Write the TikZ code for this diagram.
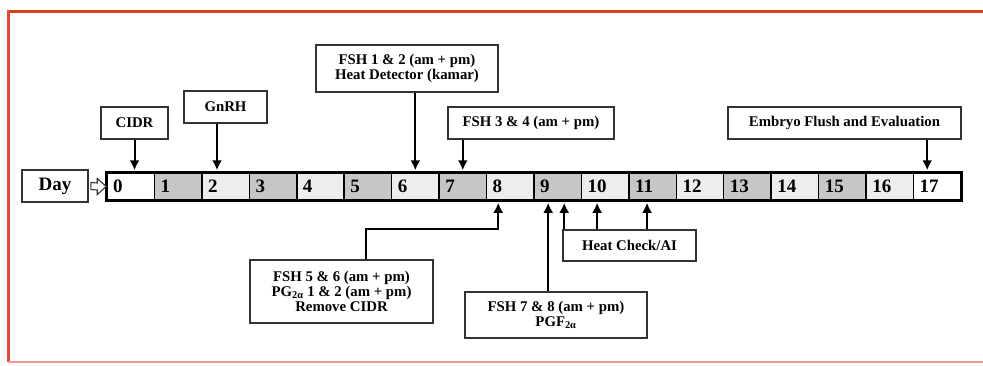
\documentclass[tikz,border=0pt]{standalone}
\usepackage{fontspec}
\setmainfont{Liberation Serif}
\usetikzlibrary{arrows.meta}
\definecolor{darkcell}{HTML}{C6C6C6}
\definecolor{lightcell}{HTML}{EDEDED}
\definecolor{frametop}{HTML}{D9411E}
\definecolor{frameleft}{HTML}{E0493A}
\definecolor{framebot}{HTML}{F29A92}
\begin{document}
\begin{tikzpicture}[x=1pt, y=-1pt, >={Latex[length=10pt,width=10pt]},
  box/.style={rectangle, draw=black!80, line width=1.6pt, fill=white, align=center, inner sep=0pt, font=\bfseries\fontsize{14.8}{15}\selectfont},
  cell/.style={rectangle, draw, line width=1.5pt, minimum width=47.44pt, minimum height=27pt, inner xsep=6pt, text width=35pt, align=left, font=\bfseries\fontsize{19}{19}\selectfont},
  arr/.style={->, line width=2pt, shorten >=2pt}]
\useasboundingbox (0,0) rectangle (983,365);
% frame
\draw[frametop, line width=3pt] (7,11) -- (983,11);
\draw[frameleft, line width=2.5pt] (8.5,10) -- (8.5,362);
\draw[framebot, line width=2.5pt] (7.5,362) -- (983,362);
% days
\foreach \d/\c in {0/white,1/darkcell,2/lightcell,3/darkcell,4/lightcell,5/darkcell,6/lightcell,7/darkcell,8/lightcell,9/darkcell,10/lightcell,11/darkcell,12/lightcell,13/darkcell,14/lightcell,15/darkcell,16/lightcell,17/white}
  \node (c\d) [cell, fill=\c] at ({107+47.44*(\d+0.5)}, 186.5) {\d};
\draw[line width=2.2pt] (c0.north west) rectangle (c17.south east);
\node (day) [box, minimum width=66pt, minimum height=32pt, font=\bfseries\fontsize{19}{19}\selectfont] at (55,186) {Day};
% hollow arrow day -> 0
\draw[line width=1.1pt, draw=black!80, fill=white, line join=miter]
  ([xshift=2pt,yshift=3.5pt]day.east) -- ([xshift=-9pt,yshift=3.5pt]c0.west) -- ([xshift=-9pt,yshift=8pt]c0.west)
  -- (c0.west) -- ([xshift=-9pt,yshift=-8pt]c0.west) -- ([xshift=-9pt,yshift=-3.5pt]c0.west)
  -- ([xshift=2pt,yshift=-3.5pt]day.east) -- cycle;
% events above
\node (cidr) [box, minimum width=67pt, minimum height=32pt] at (134.5,123) {CIDR};
\node (gnrh) [box, minimum width=83pt, minimum height=32pt] at (225.5,107) {GnRH};
\node (fshA) [box, minimum width=182pt, minimum height=47pt] at (407,68.5) {FSH 1 \& 2 (am + pm)\\Heat Detector (kamar)};
\node (fshB) [box, minimum width=166pt, minimum height=32pt] at (531,123) {FSH 3 \& 4 (am + pm)};
\node (embryo) [box, minimum width=233pt, minimum height=32pt] at (844.5,123) {Embryo Flush and Evaluation};
\draw[arr] (cidr) -- (cidr |- c0.north);
\draw[arr] ([xshift=-8.5pt]gnrh.south) -- ([xshift=-8.5pt]gnrh.south |- c2.north);
\draw[arr] (fshA.south -| c6) -- (c6.north);
\draw[arr] (fshB.south -| c7) -- (c7.north);
\draw[arr] ([xshift=-10pt]c17.north |- embryo.south) -- ([xshift=-10pt]c17.north);
% events below
\node (fshC) [box, minimum width=183pt, minimum height=63pt] at (341.5,291.5) {FSH 5 \& 6 (am + pm)\\PG\textsubscript{2α} 1 \& 2 (am + pm)\\Remove CIDR};
\node (fshD) [box, minimum width=182pt, minimum height=46pt] at (556,315) {FSH 7 \& 8 (am + pm)\\PGF\textsubscript{2α}};
\node (heat) [box, minimum width=133pt, minimum height=31pt] at (629.5,245.5) {Heat Check/AI};
\draw[arr] ([xshift=24.5pt]fshC.north) |- ([xshift=-12pt]c8.south |- heat.north) -- ([xshift=-12pt]c8.south);
\draw[arr] ([xshift=-9.5pt]c9.south |- fshD.north) -- ([xshift=-9.5pt]c9.south);
\draw[arr] ([xshift=2pt]heat.north west) -- ([xshift=2pt]heat.north west |- c9.south);
\draw[arr] ([xshift=-8pt]c10.south |- heat.north) -- ([xshift=-8pt]c10.south);
\draw[arr] ([xshift=-5.5pt]c11.south |- heat.north) -- ([xshift=-5.5pt]c11.south);
\end{tikzpicture}
\end{document}
